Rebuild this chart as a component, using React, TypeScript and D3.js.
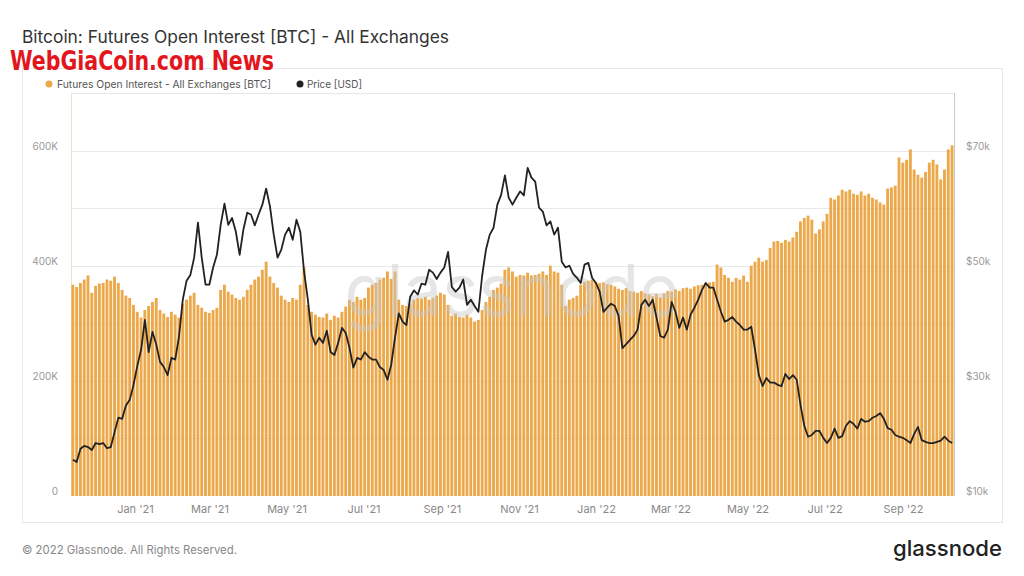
import React from 'react';
import * as d3 from 'd3';

// ---- data (3-day samples starting 2020-11-11) ----
const START = Date.UTC(2020, 10, 11);
const STEP_DAYS = 3;
const DAY = 86400000;

// Futures open interest, thousands of BTC
const OI_K = [
  367, 363, 370, 376, 383, 353, 365, 369, 370, 376,
  374, 381, 370, 358, 348, 344, 332, 320, 310, 323,
  330, 337, 344, 323, 317, 311, 320, 315, 310, 334,
  341, 348, 353, 332, 327, 320, 318, 323, 327, 358,
  367, 355, 350, 344, 341, 346, 358, 367, 376, 381,
  393, 407, 381, 370, 362, 348, 341, 337, 344, 341,
  367, 397, 332, 320, 315, 311, 310, 317, 306, 313,
  310, 320, 329, 341, 337, 346, 341, 344, 362, 367,
  370, 376, 379, 390, 377, 390, 341, 332, 330, 334,
  341, 344, 343, 346, 341, 344, 348, 353, 350, 332,
  313, 317, 311, 310, 315, 310, 303, 306, 323, 337,
  346, 358, 362, 369, 393, 397, 390, 381, 384, 383,
  388, 383, 384, 386, 390, 384, 400, 390, 388, 367,
  330, 341, 344, 348, 367, 372, 374, 376, 372, 370,
  371, 368, 367, 364, 360, 358, 361, 356, 355, 353,
  356, 352, 350, 347, 351, 345, 352, 356, 355, 359,
  356, 361, 362, 360, 364, 366, 367, 369, 371, 372,
  402, 397, 384, 379, 372, 379, 376, 383, 372, 400,
  407, 414, 407, 410, 431, 442, 443, 440, 445, 442,
  449, 459, 477, 483, 487, 480, 456, 463, 477, 490,
  518, 515, 522, 532, 529, 532, 525, 523, 529, 522,
  525, 518, 515, 510, 506, 534, 536, 539, 588, 579,
  584, 602, 567, 558, 553, 563, 579, 584, 576, 550,
  567, 602, 609,
];

// BTC price, thousands of USD
const PRICE_K = [
  16.3, 15.9, 18.2, 18.7, 18.5, 18.0, 19.2, 19.0, 19.2, 18.3,
  18.5, 21.1, 23.6, 23.4, 25.7, 26.7, 29.3, 32.6, 35.4, 40.6,
  35.0, 38.5, 36.3, 33.3, 32.4, 31.0, 34.0, 33.7, 37.7, 44.1,
  47.4, 48.4, 51.4, 57.5, 51.4, 46.7, 46.7, 49.7, 51.9, 57.1,
  60.8, 57.1, 58.3, 55.9, 51.9, 56.3, 59.2, 58.9, 57.0, 58.9,
  60.6, 63.4, 60.3, 55.4, 51.4, 52.8, 55.4, 56.6, 54.5, 58.0,
  55.9, 49.0, 44.1, 38.0, 36.3, 37.5, 36.6, 38.7, 35.0, 34.5,
  36.6, 39.2, 38.3, 35.7, 32.3, 34.0, 33.7, 35.0, 34.2, 33.7,
  33.7, 32.4, 31.9, 30.2, 32.8, 37.5, 41.7, 40.3, 39.7, 44.6,
  45.7, 45.0, 46.9, 46.7, 49.3, 48.8, 47.7, 48.8, 49.7, 52.4,
  46.3, 45.5, 46.2, 47.6, 43.2, 44.1, 43.0, 42.0, 48.3, 52.8,
  55.4, 56.6, 60.6, 62.3, 65.7, 61.8, 60.6, 61.8, 62.9, 62.2,
  67.0, 65.3, 64.6, 60.1, 59.4, 57.0, 57.7, 55.4, 56.6, 50.7,
  49.7, 50.0, 48.6, 47.9, 47.0, 50.2, 50.5, 47.9, 47.0, 45.5,
  42.0, 42.7, 43.4, 43.0, 41.3, 35.7, 36.4, 37.1, 37.8, 38.9,
  43.2, 44.1, 43.0, 44.1, 41.0, 37.8, 37.5, 38.9, 43.7, 42.0,
  39.2, 41.0, 38.9, 41.5, 42.7, 44.1, 45.8, 47.0, 46.2, 46.2,
  44.1, 42.0, 40.3, 40.6, 41.1, 40.3, 39.7, 38.9, 38.9, 39.4,
  35.4, 31.0, 29.1, 30.5, 29.7, 29.7, 29.3, 29.1, 31.2, 30.3,
  31.0, 30.2, 25.8, 22.2, 20.3, 20.6, 21.3, 21.3, 20.1, 19.2,
  20.1, 21.7, 20.1, 20.4, 22.2, 23.0, 22.5, 21.7, 23.4, 22.9,
  23.0, 23.6, 23.9, 24.4, 23.4, 21.8, 21.5, 20.6, 20.3, 20.1,
  19.7, 19.2, 20.8, 22.0, 19.7, 19.4, 19.2, 19.2, 19.4, 19.6,
  20.3, 19.6, 19.2,
];

const X_TICK_DATES = ['2021-01-01', '2021-03-01', '2021-05-01', '2021-07-01', '2021-09-01', '2021-11-01',
  '2022-01-01', '2022-03-01', '2022-05-01', '2022-07-01', '2022-09-01'];
const X_TICK_LABELS = ["Jan '21", "Mar '21", "May '21", "Jul '21", "Sep '21", "Nov '21",
  "Jan '22", "Mar '22", "May '22", "Jul '22", "Sep '22"];
const LEFT_TICKS = [0, 200, 400, 600];
const LEFT_LABELS = ['0', '200K', '400K', '600K'];
const RIGHT_TICKS = [10, 30, 50, 70];
const RIGHT_LABELS = ['$10k', '$30k', '$50k', '$70k'];
const GRID_TICKS = [100, 200, 300, 400, 500, 600];

const TITLE = 'Bitcoin: Futures Open Interest [BTC] - All Exchanges';
const LEGEND = ['Futures Open Interest - All Exchanges [BTC]', 'Price [USD]'];

const FONT = 'Inter, "Noto Sans", sans-serif';
const ORANGE = '#eca94c';

export default function App() {
  const left = 71, right = 954, top = 93, bottom = 496;
  const x = d3.scaleUtc()
    .domain([new Date(START), new Date(START + 699 * DAY)])
    .range([left, right]);
  const yOI = d3.scaleLinear().domain([0, 700]).range([bottom, top]);
  const yP = d3.scaleLinear().domain([10, 80]).range([bottom, top]);

  const bars = OI_K.map((v, i) => {
    const d0 = START + i * STEP_DAYS * DAY;
    const x0 = x(new Date(d0));
    const x1 = x(new Date(d0 + STEP_DAYS * DAY));
    return { x: x0 + 0.4, w: Math.max(0.5, x1 - x0 - 0.9), y: yOI(v), h: yOI(0) - yOI(v) };
  });

  const line = d3.line<number>()
    .x((_, i) => x(new Date(START + (i * STEP_DAYS + STEP_DAYS / 2) * DAY)))
    .y((v) => yP(v))
    .curve(d3.curveLinear);

  return (
    <svg width={1024} height={576} style={{ position: 'absolute', left: 0, top: 0, background: '#fff' }}
      fontFamily={FONT}>
      <rect x={0} y={0} width={1024} height={576} fill="#fff" />
      <text x={22} y={43} fontSize={17} fill="#333" textLength={427} lengthAdjust="spacingAndGlyphs">{TITLE}</text>
      <rect x={22.5} y={68.5} width={980} height={454} fill="none" stroke="#e8e8e8" />
      <text x={10} y={70} fontSize={26} fontWeight={700} fill="#e3161d"
        fontFamily='"Liberation Sans Narrow", "DejaVu Sans Condensed", sans-serif'
        textLength={264} lengthAdjust="spacingAndGlyphs">WebGiaCoin.com News</text>

      {/* legend */}
      <circle cx={49} cy={84} r={3.5} fill={ORANGE} />
      <text x={57} y={88} fontSize={10.5} fill="#555" textLength={214} lengthAdjust="spacingAndGlyphs">{LEGEND[0]}</text>
      <circle cx={300} cy={84} r={3.5} fill="#222" />
      <text x={307} y={88} fontSize={10.5} fill="#555" textLength={55} lengthAdjust="spacingAndGlyphs">{LEGEND[1]}</text>

      {/* frame lines */}
      <line x1={left} x2={right} y1={top + 0.5} y2={top + 0.5} stroke="#e6e6e6" />
      {GRID_TICKS.map((t) => (
        <line key={t} x1={left} x2={right} y1={Math.round(yOI(t)) + 0.5} y2={Math.round(yOI(t)) + 0.5} stroke="#e9e9e9" />
      ))}
      <line x1={left + 0.5} x2={left + 0.5} y1={top} y2={bottom} stroke="#efe2cf" />
      <line x1={right + 0.5} x2={right + 0.5} y1={top} y2={bottom} stroke="#c8c8c8" />

      {/* bars */}
      <g>
        {bars.map((b, i) => (
          <rect key={i} x={b.x} y={b.y} width={b.w} height={b.h} fill={ORANGE} />
        ))}
      </g>

      {/* faint watermark */}
      <text x={512} y={316} fontSize={72} textAnchor="middle" fill="#c8c8c8" opacity={0.45}
        textLength={335} lengthAdjust="spacingAndGlyphs">glassnode</text>

      {/* price line */}
      <path d={line(PRICE_K) || ''} fill="none" stroke="#222" strokeWidth={1.8} strokeLinejoin="round" />

      {/* left axis */}
      {LEFT_TICKS.map((t, i) => (
        <text key={t} x={58} y={yOI(t) - 1} fontSize={10} fill="#999" textAnchor="end">{LEFT_LABELS[i]}</text>
      ))}
      {/* right axis */}
      {RIGHT_TICKS.map((t, i) => (
        <text key={t} x={966} y={yP(t) - 1} fontSize={10} fill="#999">{RIGHT_LABELS[i]}</text>
      ))}
      {/* x axis */}
      {X_TICK_DATES.map((d, i) => (
        <text key={d} x={x(new Date(d + 'T00:00:00Z'))} y={513} fontSize={11} fill="#888" textAnchor="middle">{X_TICK_LABELS[i]}</text>
      ))}

      {/* footer */}
      <text x={22} y={554} fontSize={11.5} fill="#888" textLength={215} lengthAdjust="spacingAndGlyphs">© 2022 Glassnode. All Rights Reserved.</text>
      <text x={893} y={556} fontSize={22} fill="#222" fontWeight={500} textLength={109} lengthAdjust="spacingAndGlyphs">glassnode</text>
    </svg>
  );
}
